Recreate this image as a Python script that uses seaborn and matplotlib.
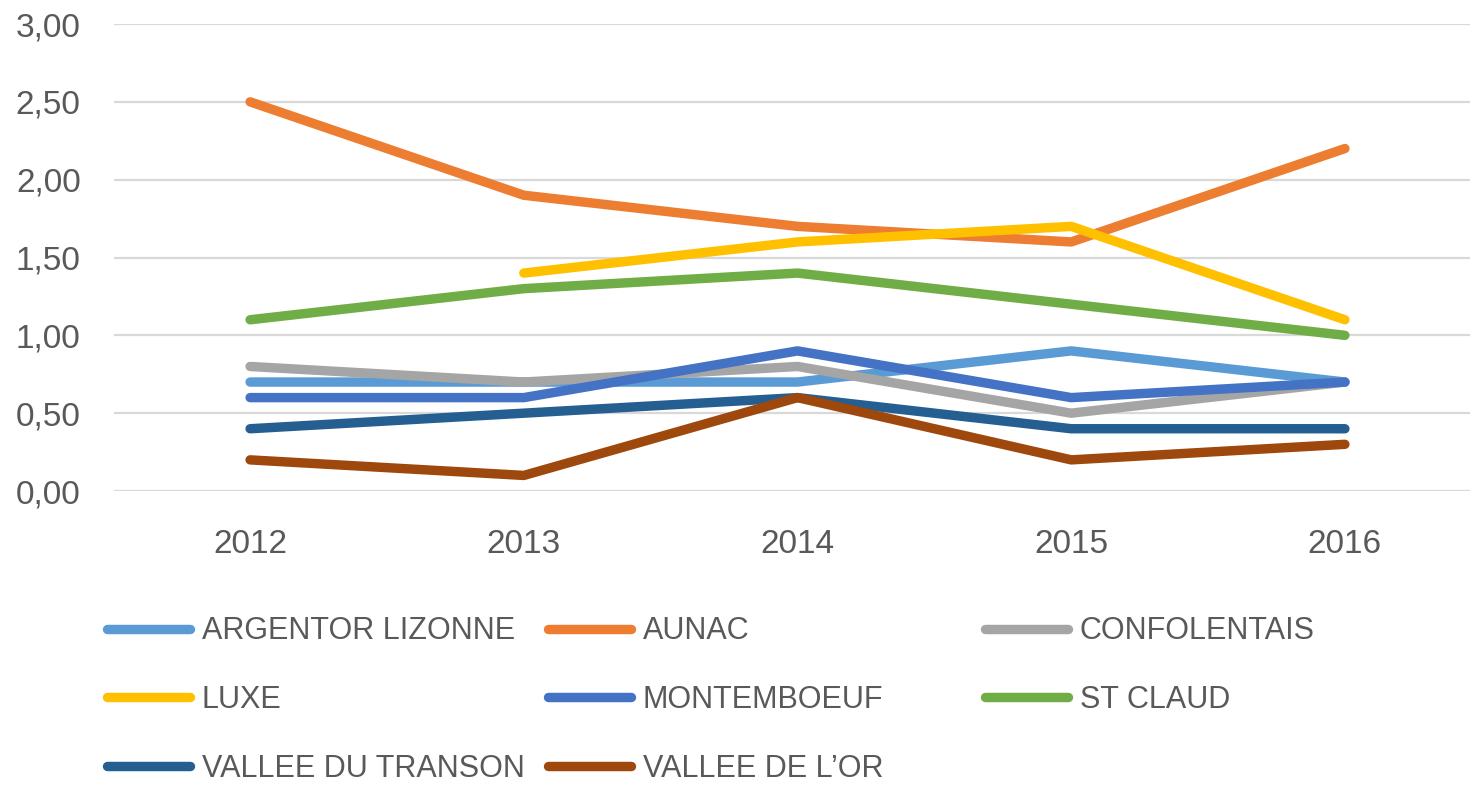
import pandas as pd
import numpy as np
import seaborn as sns
import matplotlib.pyplot as plt

# donnees
annees = [2012, 2013, 2014, 2015, 2016]
argentor = [0.7, 0.7, 0.7, 0.9, 0.7]
aunac = [2.5, 1.9, 1.7, 1.6, 2.2]
confolentais = [0.8, 0.7, 0.8, 0.5, 0.7]
luxe = [np.nan, 1.4, 1.6, 1.7, 1.1]
montemboeuf = [0.6, 0.6, 0.9, 0.6, 0.7]
st_claud = [1.1, 1.3, 1.4, 1.2, 1.0]
transon = [0.4, 0.5, 0.6, 0.4, 0.4]
vallee_or = [0.2, 0.1, 0.6, 0.2, 0.3]

noms = ['ARGENTOR LIZONNE', 'AUNAC', 'CONFOLENTAIS', 'LUXE', 'MONTEMBOEUF',
        'ST CLAUD', 'VALLEE DU TRANSON', 'VALLEE DE L\u2019OR']
valeurs = [argentor, aunac, confolentais, luxe, montemboeuf, st_claud, transon, vallee_or]
couleurs = ['#5B9BD5', '#ED7D31', '#A5A5A5', '#FFC000', '#4472C4', '#70AD47', '#255E91', '#9E480E']

df = pd.DataFrame({
    'annee': annees * len(noms),
    'valeur': sum(valeurs, []),
    'secteur': [n for n in noms for _ in annees],
})
df = df.dropna()

sns.set_style('white')
plt.rcParams['font.family'] = ['Liberation Sans', 'DejaVu Sans']

fig = plt.figure(figsize=(14.7, 7.87), dpi=100)
ax = fig.add_axes([0.0776, 0.3761, 0.9224, 0.5934])

sns.lineplot(data=df, x='annee', y='valeur', hue='secteur', hue_order=noms,
             palette=couleurs, linewidth=6.8, ax=ax, estimator=None, sort=False,
             legend=True)

ax.set_xlim(2012 - 0.497, 2012 + 4.457)
ax.set_ylim(0, 3)
ax.set_yticks(np.arange(0, 3.01, 0.5))
ax.set_yticklabels([f'{v:.2f}'.replace('.', ',') for v in np.arange(0, 3.01, 0.5)])
ax.set_xticks(annees)
ax.set_xticklabels([str(a) for a in annees])
ax.grid(axis='y', color='#D9D9D9', linewidth=1.6)
ax.set_axisbelow(True)
for s in ax.spines.values():
    s.set_visible(False)
ax.tick_params(axis='both', length=0, labelsize=24, colors='#595959')
ax.tick_params(axis='y', pad=24)
ax.tick_params(axis='x', pad=27)
ax.set_xlabel('')
ax.set_ylabel('')

# legende : 3 colonnes regulieres, une legende par colonne
handles, labels = ax.get_legend_handles_labels()
ax.get_legend().remove()
colonnes = [[0, 3, 6], [1, 4, 7], [2, 5]]
x_col = [0.0728, 0.3728, 0.6701]
for xc, idx in zip(x_col, colonnes):
    leg = fig.legend([handles[i] for i in idx], [labels[i] for i in idx],
                     loc='upper left', bbox_to_anchor=(xc, 0.217),
                     ncol=1, frameon=False, fontsize=22, handlelength=2.7,
                     handletextpad=0.4, labelspacing=1.27,
                     borderaxespad=0, borderpad=0)
    for t in leg.get_texts():
        t.set_color('#595959')
    for h in leg.get_lines():
        h.set_linewidth(6.8)

fig.savefig('out.png', dpi=100)
